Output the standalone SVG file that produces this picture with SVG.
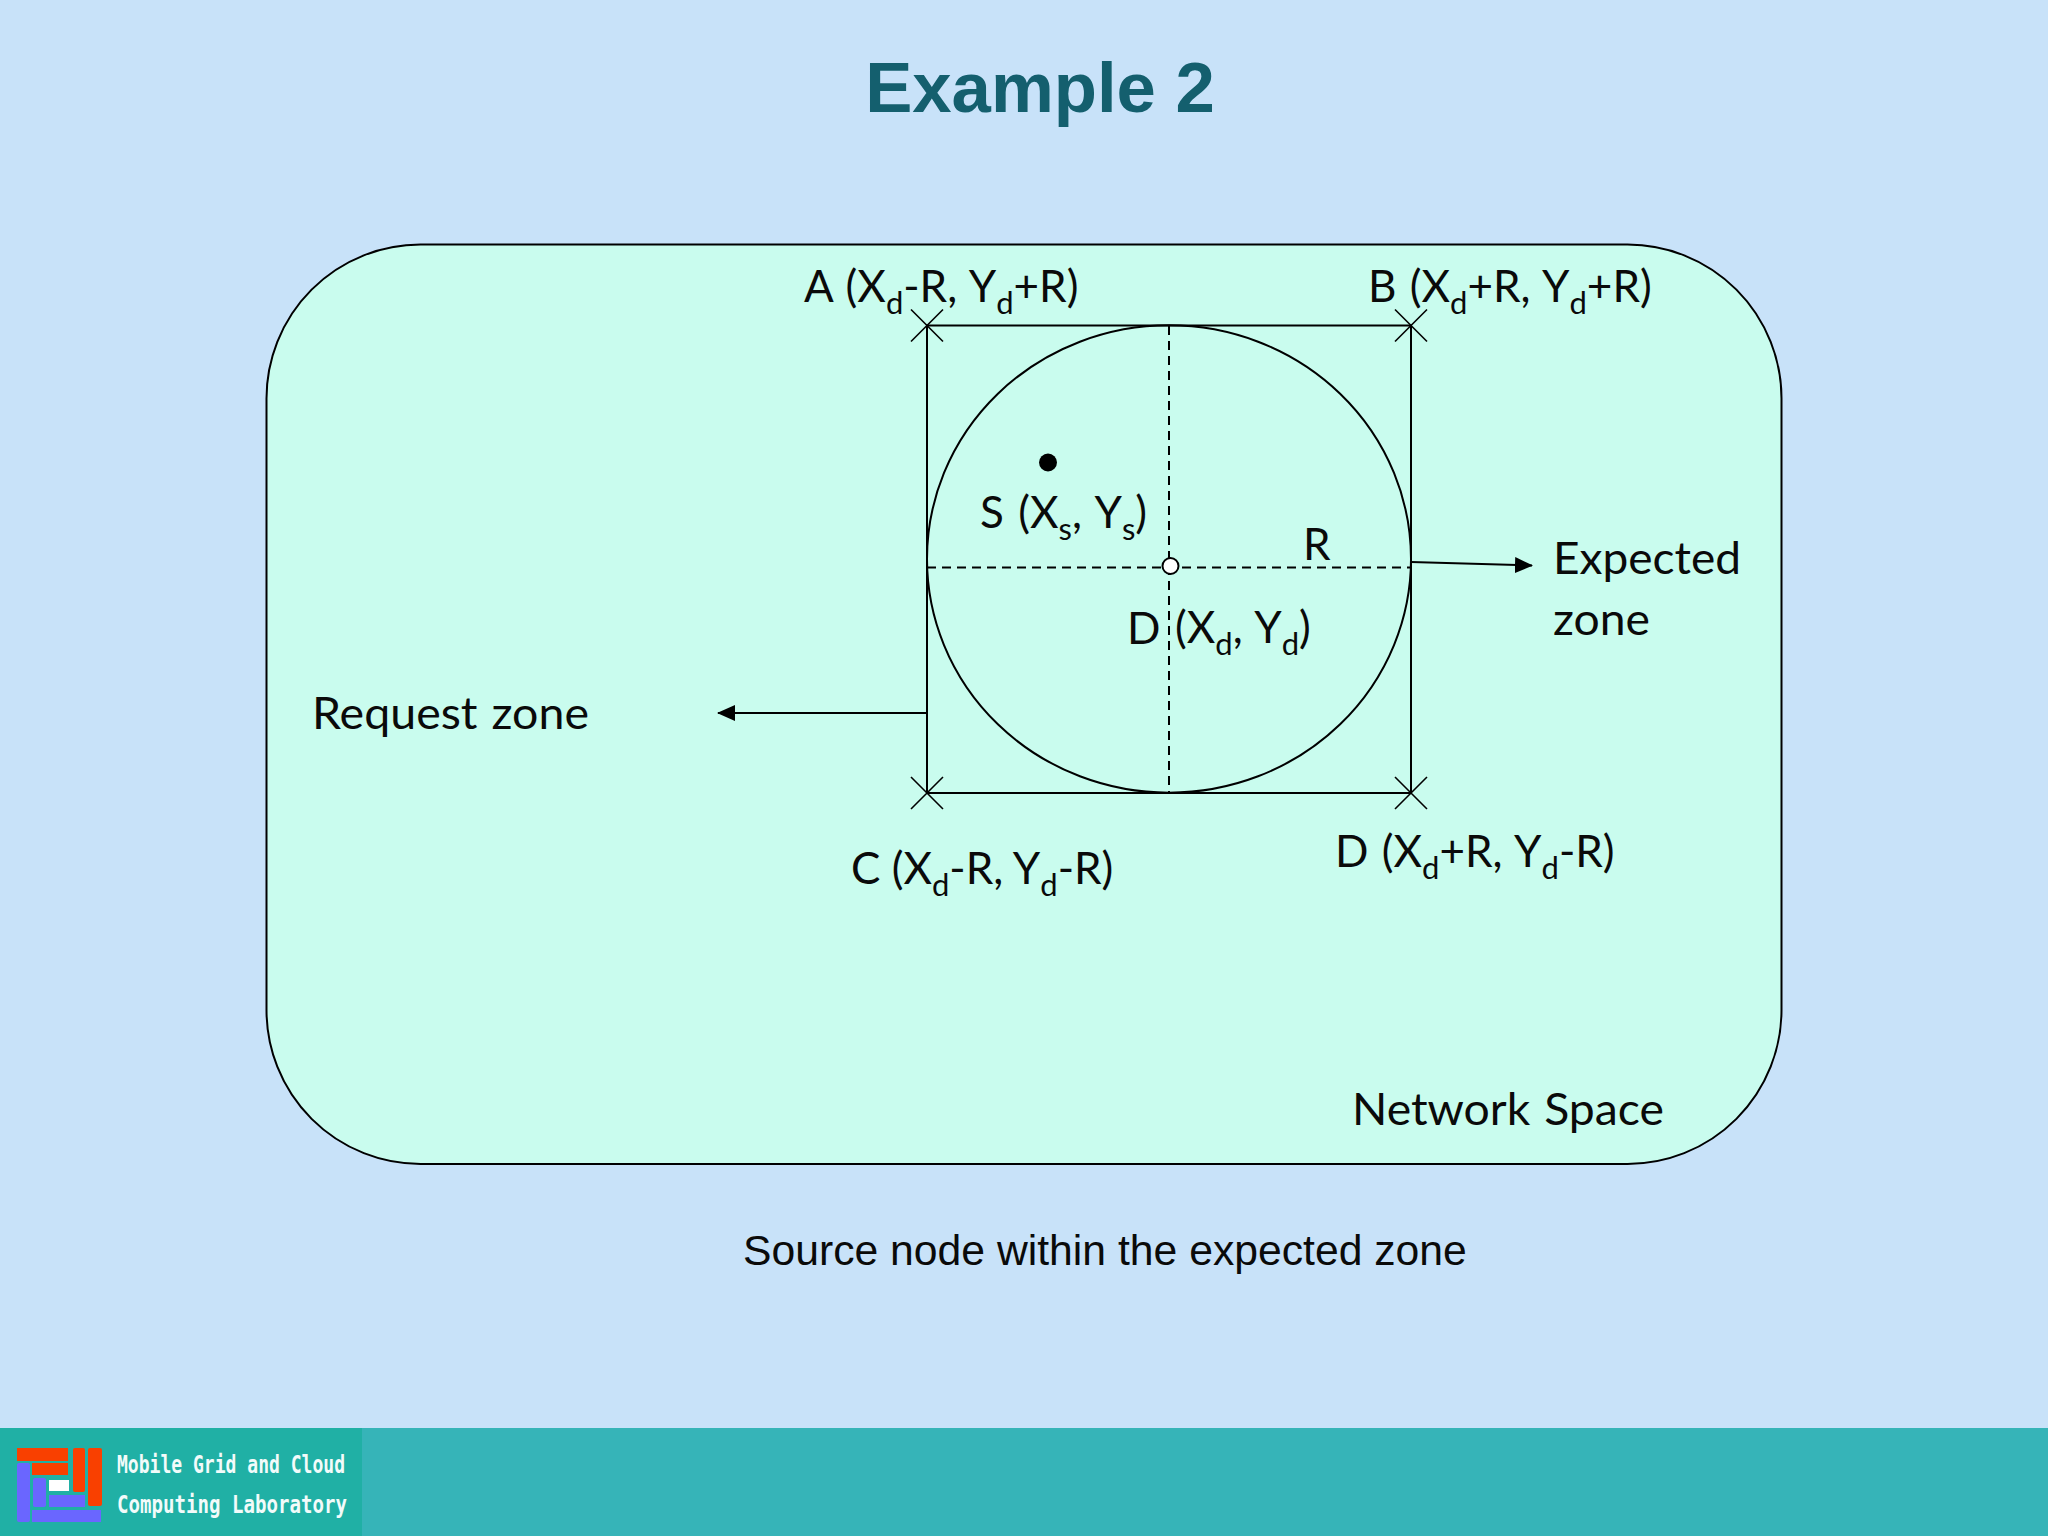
<svg xmlns="http://www.w3.org/2000/svg" width="2048" height="1536" viewBox="0 0 2048 1536">
<style>
.l{font-family:"Lato","Liberation Sans",sans-serif;font-size:44px;fill:#0a0a0a;word-spacing:2px}
.s{font-size:31px}
.a{font-family:"Liberation Sans",Arial,sans-serif}
.k{fill:none;stroke:#000;stroke-width:2}
.d{fill:none;stroke:#000;stroke-width:2;stroke-dasharray:9 6}
.lt{font-family:"DejaVu Sans Mono",monospace;font-weight:bold;font-size:25px;fill:#f2fbfa}
</style>
<defs>
<marker id="ah" markerUnits="userSpaceOnUse" markerWidth="18" markerHeight="16" refX="17" refY="8" orient="auto"><path d="M0 0L18 8L0 16Z" fill="#000"/></marker>
<g id="cross"><path d="M-16 -16L16 16M16 -16L-16 16" stroke="#000" stroke-width="1.6" fill="none"/></g>
</defs>
<rect width="2048" height="1536" fill="#c8e2f9"/>
<g id="footer">
<rect y="1428" width="2048" height="108" fill="#36b4b8"/>
<rect y="1428" width="362" height="108" fill="#20b0a5"/>
<g id="logo">
<rect x="17" y="1448" width="51" height="13" fill="#f94000"/>
<rect x="32" y="1463" width="36" height="12" fill="#f94000"/>
<rect x="73" y="1448" width="12" height="44" rx="2" fill="#f94000"/>
<rect x="88" y="1448" width="14" height="58" rx="2" fill="#f94000"/>
<rect x="49" y="1480" width="20" height="11" fill="#fff"/>
<rect x="17" y="1463" width="13" height="59" rx="2" fill="#6a66ff"/>
<rect x="33" y="1478" width="13" height="29" rx="2" fill="#6a66ff"/>
<rect x="49" y="1495" width="36" height="12" fill="#6a66ff"/>
<rect x="32" y="1510" width="69" height="12" fill="#6a66ff"/>
</g>
<text class="lt" x="117" y="1473" textLength="228" lengthAdjust="spacingAndGlyphs">Mobile Grid and Cloud</text>
<text class="lt" x="117" y="1513" textLength="230" lengthAdjust="spacingAndGlyphs">Computing Laboratory</text>
</g>
<text id="title" class="a" x="1040" y="112" text-anchor="middle" font-size="70.7" font-weight="bold" fill="#145f6e">Example 2</text>
<rect id="network-space" x="266.5" y="244.5" width="1515" height="919.5" rx="154" ry="154" fill="#c9fcee" stroke="#000" stroke-width="2"/>
<g id="expected-zone">
<rect class="k" x="927" y="325.5" width="484" height="467.5"/>
<ellipse class="k" cx="1169" cy="559" rx="242" ry="233.7"/>
</g>
<g id="connectors">
<path class="d" d="M1169 326V793"/>
<path class="d" d="M927 567.5H1411"/>
<path class="k" d="M1411 562L1532 565.5" marker-end="url(#ah)"/>
<path class="k" d="M927 713H718" marker-end="url(#ah)"/>
</g>
<g id="corners">
<use href="#cross" x="927" y="325.5"/>
<use href="#cross" x="1411" y="325.5"/>
<use href="#cross" x="927" y="793"/>
<use href="#cross" x="1411" y="793"/>
</g>
<g id="node-d"><circle cx="1170.5" cy="566" r="8" fill="#fff" stroke="#000" stroke-width="2"/></g>
<g id="node-s"><circle cx="1048" cy="462.5" r="9" fill="#000"/></g>
<text class="l" x="804" y="302">A (X<tspan class="s" dy="12">d</tspan><tspan dy="-12">-R, Y</tspan><tspan class="s" dy="12">d</tspan><tspan dy="-12">+R)</tspan></text>
<text class="l" x="1368" y="302">B (X<tspan class="s" dy="12">d</tspan><tspan dy="-12">+R, Y</tspan><tspan class="s" dy="12">d</tspan><tspan dy="-12">+R)</tspan></text>
<text class="l" x="851" y="884" style="word-spacing:0">C (X<tspan class="s" dy="12">d</tspan><tspan dy="-12">-R, Y</tspan><tspan class="s" dy="12">d</tspan><tspan dy="-12">-R)</tspan></text>
<text class="l" x="1335" y="867">D (X<tspan class="s" dy="12">d</tspan><tspan dy="-12">+R, Y</tspan><tspan class="s" dy="12">d</tspan><tspan dy="-12">-R)</tspan></text>
<text class="l" x="980" y="528" style="word-spacing:3px">S (X<tspan class="s" dy="12">s</tspan><tspan dy="-12">, Y</tspan><tspan class="s" dy="12">s</tspan><tspan dy="-12">)</tspan></text>
<text class="l" x="1127" y="644">D</text>
<text class="l" x="1175" y="643">(X<tspan class="s" dy="12">d</tspan><tspan dy="-12">, Y</tspan><tspan class="s" dy="12">d</tspan><tspan dy="-12">)</tspan></text>
<text class="l" x="1303" y="560">R</text>
<text class="l" x="1553" y="574" textLength="188" lengthAdjust="spacingAndGlyphs">Expected</text>
<text class="l" x="1553" y="635" textLength="97" lengthAdjust="spacingAndGlyphs">zone</text>
<text class="l" x="312" y="729" textLength="277" lengthAdjust="spacingAndGlyphs">Request zone</text>
<text class="l" x="1352" y="1125" textLength="312" lengthAdjust="spacingAndGlyphs">Network Space</text>
<text class="a" x="743" y="1265" font-size="42.7" fill="#0a0a0a">Source node within the expected zone</text>
</svg>
